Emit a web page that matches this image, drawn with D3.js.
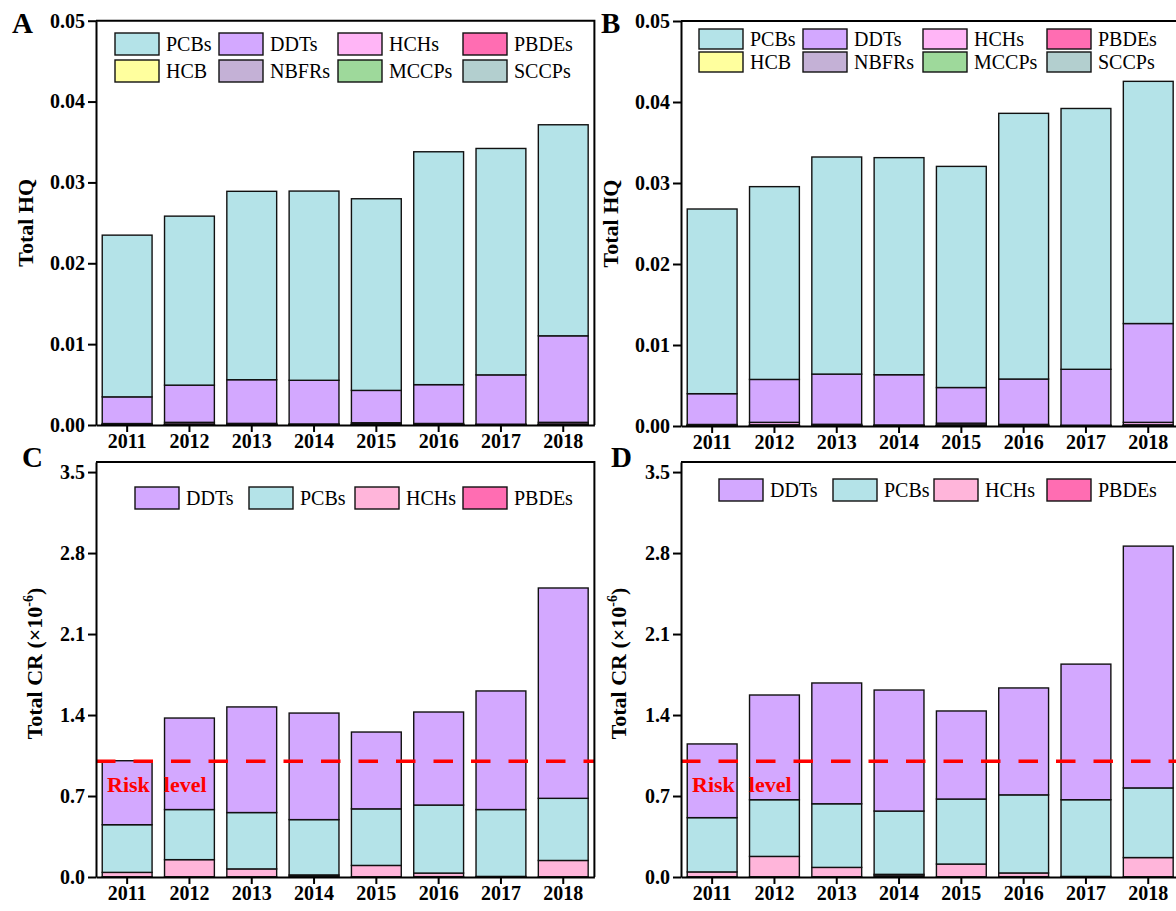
<!DOCTYPE html>
<html>
<head>
<meta charset="utf-8">
<script src="https://cdn.jsdelivr.net/npm/d3@7"></script>
<style>
  body { margin: 0; background: #fff; }
  svg { display: block; font-family: "Liberation Serif", "Times New Roman", serif; }
</style>
</head>
<body>
<svg id="chart"></svg>
<script>
const W = 1176, H = 911;

const years = [2011, 2012, 2013, 2014, 2015, 2016, 2017, 2018];

// HQ, panel A
const hqA_PCBs  = [0.0200, 0.0209, 0.0233, 0.0234, 0.0237, 0.0288, 0.0280, 0.0261];
const hqA_DDTs  = [0.0033, 0.0046, 0.0054, 0.0054, 0.0040, 0.0048, 0.0061, 0.0107];
const hqA_HCHs  = [0.0001, 0.0002, 0.0001, 0.00005, 0.00015, 0.0001, 0.00003, 0.0002];
const hqA_PBDEs = [0.00003, 0.00008, 0.00005, 0.00003, 0.00008, 0.00004, 0.00002, 0.00008];
const hqA_HCB   = [0.00001, 0.00001, 0.00001, 0.00001, 0.00001, 0.00001, 0.00001, 0.00001];
const hqA_NBFRs = [0.00001, 0.00001, 0.00001, 0.00001, 0.00001, 0.00001, 0.00001, 0.00001];
const hqA_MCCPs = [0.00002, 0.00002, 0.00002, 0.00002, 0.00002, 0.00002, 0.00002, 0.00002];
const hqA_SCCPs = [0.00001, 0.00001, 0.00001, 0.00001, 0.00001, 0.00001, 0.00001, 0.00001];

// HQ, panel B
const hqB_PCBs  = [0.0228, 0.0238, 0.0268, 0.0268, 0.0273, 0.0328, 0.0322, 0.0299];
const hqB_DDTs  = [0.0038, 0.0053, 0.0062, 0.0062, 0.0044, 0.0056, 0.0069, 0.0122];
const hqB_HCHs  = [0.0001, 0.0003, 0.0001, 0.00005, 0.0002, 0.0001, 0.00003, 0.0003];
const hqB_PBDEs = [0.00004, 0.0001, 0.00006, 0.00003, 0.0001, 0.00005, 0.00002, 0.0001];
const hqB_HCB   = [0.00001, 0.00001, 0.00001, 0.00001, 0.00001, 0.00001, 0.00001, 0.00001];
const hqB_NBFRs = [0.00001, 0.00001, 0.00001, 0.00001, 0.00001, 0.00001, 0.00001, 0.00001];
const hqB_MCCPs = [0.00002, 0.00002, 0.00002, 0.00002, 0.00002, 0.00002, 0.00002, 0.00002];
const hqB_SCCPs = [0.00001, 0.00001, 0.00001, 0.00001, 0.00001, 0.00001, 0.00001, 0.00001];

// CR (x10^-6), panel C
const crC_DDTs  = [0.553, 0.791, 0.913, 0.921, 0.664, 0.804, 1.025, 1.818];
const crC_PCBs  = [0.412, 0.433, 0.487, 0.478, 0.489, 0.588, 0.578, 0.537];
const crC_HCHs  = [0.038, 0.148, 0.068, 0.010, 0.098, 0.031, 0.004, 0.141];
const crC_PBDEs = [0.002, 0.002, 0.002, 0.008, 0.002, 0.003, 0.001, 0.002];

// CR (x10^-6), panel D
const crD_DDTs  = [0.637, 0.905, 1.044, 1.046, 0.761, 0.924, 1.172, 2.090];
const crD_PCBs  = [0.469, 0.490, 0.550, 0.547, 0.562, 0.675, 0.663, 0.602];
const crD_HCHs  = [0.042, 0.176, 0.081, 0.013, 0.110, 0.032, 0.004, 0.166];
const crD_PBDEs = [0.002, 0.002, 0.002, 0.010, 0.002, 0.003, 0.001, 0.002];

const hqLegend = ["PCBs", "DDTs", "HCHs", "PBDEs", "HCB", "NBFRs", "MCCPs", "SCCPs"];
const hqStack  = ["SCCPs", "MCCPs", "NBFRs", "HCB", "PBDEs", "HCHs", "DDTs", "PCBs"];
const crLegend = ["DDTs", "PCBs", "HCHs", "PBDEs"];
const crStack  = ["PBDEs", "HCHs", "PCBs", "DDTs"];

const hqTicks = [0, 0.01, 0.02, 0.03, 0.04, 0.05];
const crTicks = [0, 0.7, 1.4, 2.1, 2.8, 3.5];
const riskLevel = 1.0;

const hqColors = {
  PCBs: "#b4e3e8", DDTs: "#d3a8ff", HCHs: "#ffb5f6", PBDEs: "#ff6db2",
  HCB: "#ffff9e", NBFRs: "#c4b1d6", MCCPs: "#9ed99b", SCCPs: "#b3cfcf"
};
const crColors = { DDTs: "#d3a8ff", PCBs: "#b4e3e8", HCHs: "#ffb5da", PBDEs: "#ff6db2" };

function rows(series) {
  return years.map((y, i) => {
    const r = { year: y };
    Object.keys(series).forEach(k => { r[k] = series[k][i]; });
    return r;
  });
}

const svg = d3.select("#chart").attr("width", W).attr("height", H);

function drawPanel(p) {
  const x = d3.scaleBand().domain(years).range(p.xRange).paddingInner(0.2).paddingOuter(0.1);
  const y = d3.scaleLinear().domain(p.yDomain).range(p.yRange);
  const g = svg.append("g");

  const stacked = d3.stack().keys(p.stackKeys)(p.data);
  g.selectAll("g.layer")
    .data(stacked)
    .enter().append("g")
    .attr("fill", d => p.colors[d.key])
    .selectAll("rect")
    .data(d => d)
    .enter().append("rect")
    .attr("x", d => x(d.data.year))
    .attr("width", x.bandwidth())
    .attr("y", d => y(d[1]))
    .attr("height", d => Math.max(0, y(d[0]) - y(d[1])))
    .attr("stroke", "#111")
    .attr("stroke-width", 1.4);

  if (p.risk) {
    g.append("line")
      .attr("x1", p.xRange[0]).attr("x2", p.xRange[1])
      .attr("y1", y(riskLevel)).attr("y2", y(riskLevel))
      .attr("stroke", "#ff0000").attr("stroke-width", 3.5)
      .attr("stroke-dasharray", "19.5,18");
    const rt = g.append("text")
      .attr("x", p.xRange[0] + 11).attr("y", y(riskLevel) + 31)
      .attr("fill", "#ff0000").attr("font-weight", "bold").attr("font-size", "22px");
    rt.append("tspan").text("Risk");
    rt.append("tspan").attr("dx", 14).text("level");
  }

  // frame
  const [x0, x1] = p.xRange, [yb, yt] = p.yRange;
  g.append("path")
    .attr("d", `M${x0},${yt}H${x1}V${yb}`)
    .attr("fill", "none").attr("stroke", "#000").attr("stroke-width", 2);

  const yAxis = g.append("g")
    .attr("transform", `translate(${x0},0)`)
    .call(d3.axisLeft(y).tickValues(p.ticks).tickFormat(d3.format(p.fmt)).tickSize(8).tickPadding(3).tickSizeOuter(0));
  const xAxis = g.append("g")
    .attr("transform", `translate(0,${yb})`)
    .call(d3.axisBottom(x).tickSize(7).tickPadding(2).tickSizeOuter(0));
  [xAxis, yAxis].forEach(a => {
    a.select(".domain").attr("stroke-width", 2);
    a.selectAll(".tick line").attr("stroke-width", 2);
    a.selectAll("text").attr("font-size", "20px").attr("font-weight", "bold")
      .attr("fill", "#000").attr("font-family", "Liberation Serif, serif");
  });

  // panel letter
  g.append("text")
    .attr("x", p.letterX).attr("y", p.letterY)
    .attr("font-size", "29px").attr("font-weight", "bold")
    .text(p.letter);

  // y title
  const t = g.append("text")
    .attr("transform", `translate(${p.titleX},${(yb + yt) / 2 - (p.cr ? 6 : 0)}) rotate(-90)`)
    .attr("text-anchor", "middle")
    .attr("font-size", "22px").attr("font-weight", "bold");
  if (p.cr) {
    t.append("tspan").text("Total CR (\u00d710");
    t.append("tspan").attr("dy", -9).attr("font-size", "14px").text("-6");
    t.append("tspan").attr("dy", 9).text(")");
  } else {
    t.text("Total HQ");
  }

  // legend
  const lg = g.append("g");
  const bh = p.boxH;
  p.legendKeys.forEach((k, i) => {
    const col = i % p.legendCols.length, row = Math.floor(i / p.legendCols.length);
    const lx = p.legendCols[col], ly = p.legendRows[row];
    lg.append("rect")
      .attr("x", lx).attr("y", ly - bh / 2).attr("width", 44).attr("height", bh)
      .attr("fill", p.colors[k]).attr("stroke", "#111").attr("stroke-width", 1.4);
    lg.append("text")
      .attr("x", lx + 51).attr("y", ly + 7)
      .attr("font-size", "20px")
      .text(k);
  });
}

drawPanel({
  letter: "A", letterX: 12, letterY: 33, titleX: 33,
  xRange: [96, 594.4], yRange: [425, 20.7], yDomain: [0, 0.05],
  ticks: hqTicks, fmt: ".2f",
  data: rows({ PCBs: hqA_PCBs, DDTs: hqA_DDTs, HCHs: hqA_HCHs, PBDEs: hqA_PBDEs, HCB: hqA_HCB, NBFRs: hqA_NBFRs, MCCPs: hqA_MCCPs, SCCPs: hqA_SCCPs }),
  stackKeys: hqStack, legendKeys: hqLegend, colors: hqColors,
  legendCols: [115, 219, 338, 463], legendRows: [44, 71], boxH: 22
});

drawPanel({
  letter: "B", letterX: 601, letterY: 33, titleX: 618,
  xRange: [681, 1179.4], yRange: [426, 21], yDomain: [0, 0.05],
  ticks: hqTicks, fmt: ".2f",
  data: rows({ PCBs: hqB_PCBs, DDTs: hqB_DDTs, HCHs: hqB_HCHs, PBDEs: hqB_PBDEs, HCB: hqB_HCB, NBFRs: hqB_NBFRs, MCCPs: hqB_MCCPs, SCCPs: hqB_SCCPs }),
  stackKeys: hqStack, legendKeys: hqLegend, colors: hqColors,
  legendCols: [699, 803, 923, 1047], legendRows: [39, 62], boxH: 20
});

drawPanel({
  letter: "C", letterX: 22, letterY: 467, titleX: 42, cr: true, risk: true,
  xRange: [96, 594.4], yRange: [877, 462], yDomain: [0, 3.587],
  ticks: crTicks, fmt: ".1f",
  data: rows({ DDTs: crC_DDTs, PCBs: crC_PCBs, HCHs: crC_HCHs, PBDEs: crC_PBDEs }),
  stackKeys: crStack, legendKeys: crLegend, colors: crColors,
  legendCols: [135, 249, 355, 463], legendRows: [498], boxH: 22
});

drawPanel({
  letter: "D", letterX: 611, letterY: 467, titleX: 626, cr: true, risk: true,
  xRange: [681, 1179.4], yRange: [877, 462], yDomain: [0, 3.587],
  ticks: crTicks, fmt: ".1f",
  data: rows({ DDTs: crD_DDTs, PCBs: crD_PCBs, HCHs: crD_HCHs, PBDEs: crD_PBDEs }),
  stackKeys: crStack, legendKeys: crLegend, colors: crColors,
  legendCols: [719, 833, 934, 1047], legendRows: [490], boxH: 22
});
</script>
</body>
</html>
